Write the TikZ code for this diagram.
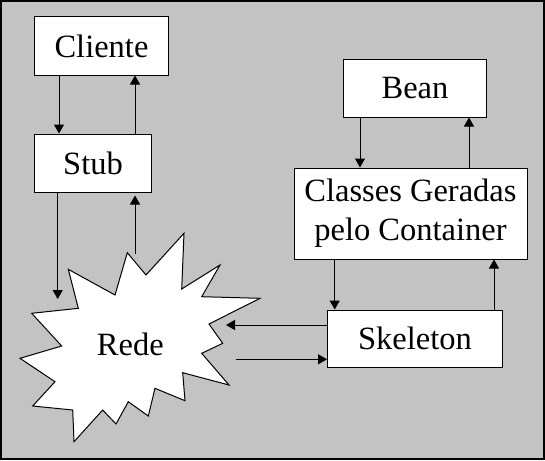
\documentclass[tikz,border=0pt]{standalone}
\usepackage{fontspec}
\setmainfont{Liberation Serif}
\usetikzlibrary{arrows.meta}
\definecolor{bg}{RGB}{195,195,195}
\begin{document}
\begin{tikzpicture}[x=1pt,y=-1pt,
  box/.style={draw=black,fill=white,line width=1pt,inner sep=0pt,
    font=\fontsize{32.5}{39}\selectfont,align=center},
  arr/.style={line width=1pt,-{Triangle[length=9pt,width=10pt]}},
  burst/.style={draw=black,fill=white,line width=1pt,line join=miter}]
\useasboundingbox (0,0) rectangle (545,460);
\draw[fill=bg,line width=2pt] (1,1) rectangle (544,459);
% starburst
\draw[burst] (68.3,269.3) -- (115,295) -- (127.3,252.7) -- (146,275) -- (184,233.3)
  -- (181.7,289) -- (220,265) -- (201.7,296.7) -- (260,298.3) -- (209,324)
  -- (222.7,343.3) -- (201.7,353.3) -- (229,385) -- (182.7,372.7) -- (185,400.7)
  -- (155,388.3) -- (148.3,416) -- (128.3,401.7) -- (116,424) -- (102.7,410)
  -- (74,441.7) -- (72.7,410) -- (32.7,406) -- (55,381.7) -- (20,358.3)
  -- (61.7,346) -- (31.7,313.3) -- (78.3,308.3) -- cycle;
\node[font=\fontsize{32.5}{39}\selectfont] (rede) at (130.3,344) {Rede};
% boxes
\node[box,minimum width=134pt,minimum height=58pt] (cliente) at (101.5,46) {Cliente};
\node[box,minimum width=117pt,minimum height=58pt] (stub) at (93,163) {Stub};
\node[box,minimum width=143pt,minimum height=58pt] (bean) at (415,88) {Bean};
\node[box,minimum width=233pt,minimum height=91pt] (classes) at (410.5,213.5) {Classes Geradas\\pelo Container};
\node[box,minimum width=175pt,minimum height=57pt] (skel) at (415,338.5) {Skeleton};
% free ends near the starburst
\coordinate (r1) at (57.7,299);
\coordinate (r2) at (135,254);
\coordinate (r3) at (226,325);
\coordinate (r4) at (235.7,359.3);
% connectors
\draw[arr] (cliente.south -| 59,0) -- (stub.north -| 59,0);
\draw[arr] (stub.north -| 135,0) -- (cliente.south -| 135,0);
\draw[arr] (stub.south -| r1) -- (r1);
\draw[arr] (r2) -- ([yshift=-3pt]stub.south -| r2);
\draw[arr] (bean.south -| 360,0) -- (classes.north -| 360,0);
\draw[arr] (classes.north -| 469,0) -- (bean.south -| 469,0);
\draw[arr] (classes.south -| 334.7,0) -- (skel.north -| 334.7,0);
\draw[arr] (skel.north -| 494,0) -- (classes.south -| 494,0);
\draw[arr] (skel.west |- r3) -- (r3);
\draw[arr] (r4) -- (skel.west |- r4);
\end{tikzpicture}
\end{document}
